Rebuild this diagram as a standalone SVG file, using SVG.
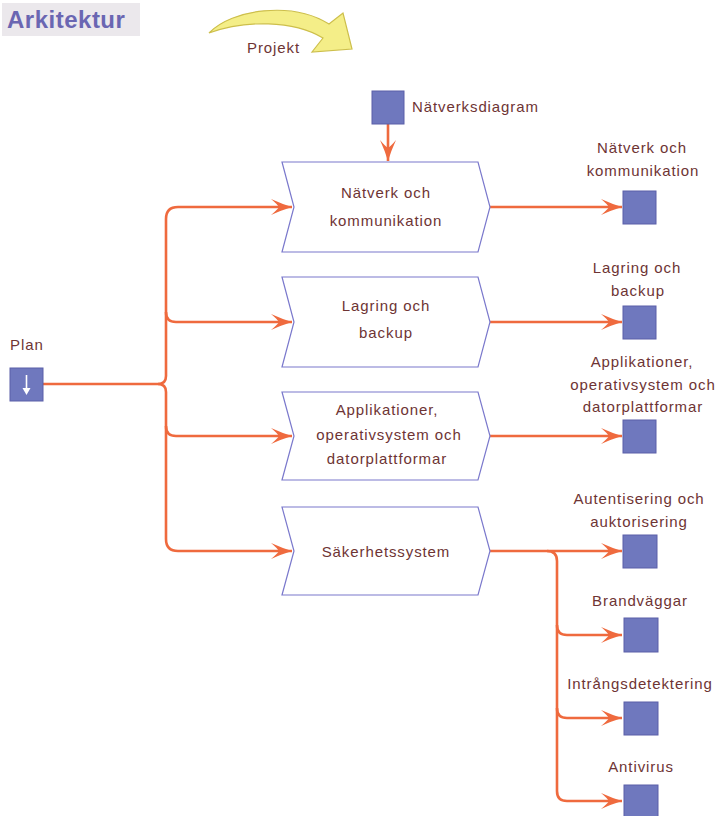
<svg xmlns="http://www.w3.org/2000/svg" width="722" height="816" viewBox="0 0 722 816">
  <style>
    .lbl { font-family: "Liberation Sans", Arial, sans-serif; font-size: 15px; fill: #6e3434; letter-spacing: 0.9px; }
    .mid { text-anchor: middle; }
    .proc { fill: #ffffff; stroke: #7a78cc; stroke-width: 1.2; }
    .sq { fill: #6f78be; stroke: #5b5fa8; stroke-width: 1; }
    .wire { fill: none; stroke: #ef6a3e; stroke-width: 2.6; }
  </style>
  <defs>
    <marker id="ah" markerUnits="userSpaceOnUse" markerWidth="24" markerHeight="18" viewBox="-22 -9 24 18" refX="0" refY="0" orient="auto">
      <path d="M0,0 Q-10,-3 -21,-8 Q-15,-3 -13,0 Q-15,3 -21,8 Q-10,3 0,0 Z" fill="#ef6a3e"/>
    </marker>
  </defs>

  <rect width="722" height="816" fill="#ffffff"/>

  <!-- heading -->
  <g id="title">
    <rect x="2" y="3" width="138" height="33" fill="#ebe8ec"/>
    <text x="7" y="28" font-family="'Liberation Sans', Arial, sans-serif" font-size="24" font-weight="bold" letter-spacing="0.5" fill="#6a66b2">Arkitektur</text>
  </g>

  <!-- curved project arrow -->
  <g id="projekt">
    <path d="M209,33 C232,9 292,1 329,24 L343,13 L352,49 L312,52 L323,38 C293,20 245,20 209,33 Z" fill="#f4ee88" stroke="#cdbf4c" stroke-width="1.2"/>
    <text class="lbl" x="247" y="53" font-size="14">Projekt</text>
  </g>

  <!-- connectors -->
  <g id="connectors">
    <path class="wire" d="M43,384 H158 Q166,384 166,376 V219 Q166,207 178,207 H292" marker-end="url(#ah)"/>
    <path class="wire" d="M158,384 Q166,384 166,392 V539 Q166,551 178,551 H292" marker-end="url(#ah)"/>
    <path class="wire" d="M166,312 Q166,322 176,322 H292" marker-end="url(#ah)"/>
    <path class="wire" d="M166,426 Q166,436 176,436 H292" marker-end="url(#ah)"/>
    <path class="wire" d="M388,124 V161" marker-end="url(#ah)"/>
    <path class="wire" d="M490,207 H622" marker-end="url(#ah)"/>
    <path class="wire" d="M490,322 H622" marker-end="url(#ah)"/>
    <path class="wire" d="M490,436 H622" marker-end="url(#ah)"/>
    <path class="wire" d="M490,551 H622" marker-end="url(#ah)"/>
    <path class="wire" d="M547,551 Q557,551 557,561 V625 Q557,635 567,635 H622" marker-end="url(#ah)"/>
    <path class="wire" d="M557,625 V708 Q557,718 567,718 H622" marker-end="url(#ah)"/>
    <path class="wire" d="M557,708 V791 Q557,801 567,801 H622" marker-end="url(#ah)"/>
  </g>

  <!-- start event -->
  <g id="plan">
    <text class="lbl" x="10" y="350">Plan</text>
    <rect class="sq" x="10" y="368" width="33" height="33"/>
    <path d="M26.5,375 V392" stroke="#ffffff" stroke-width="1.6"/>
    <path d="M22.5,388 L26.5,395 L30.5,388 Z" fill="#ffffff"/>
  </g>

  <g id="natverksdiagram">
    <rect class="sq" x="372" y="91" width="32" height="33"/>
    <text class="lbl" x="412" y="112">Nätverksdiagram</text>
  </g>

  <!-- process steps -->
  <g id="p-natverk">
    <path class="proc" d="M282,162 H478 L490,207 L478,252 H282 L294,207 Z"/>
    <text class="lbl mid" x="386" y="198">Nätverk och</text>
    <text class="lbl mid" x="386" y="226">kommunikation</text>
  </g>
  <g id="p-lagring">
    <path class="proc" d="M282,277 H478 L490,322 L478,367 H282 L294,322 Z"/>
    <text class="lbl mid" x="386" y="311">Lagring och</text>
    <text class="lbl mid" x="386" y="338">backup</text>
  </g>
  <g id="p-applikationer">
    <path class="proc" d="M282,392 H478 L490,436 L478,480 H282 L294,436 Z"/>
    <text class="lbl mid" x="387" y="415">Applikationer,</text>
    <text class="lbl mid" x="389" y="440">operativsystem och</text>
    <text class="lbl mid" x="387" y="464">datorplattformar</text>
  </g>
  <g id="p-sakerhet">
    <path class="proc" d="M282,507 H478 L490,551 L478,595 H282 L294,551 Z"/>
    <text class="lbl mid" x="386" y="557">Säkerhetssystem</text>
  </g>

  <!-- outputs -->
  <g id="o-natverk">
    <text class="lbl mid" x="642" y="153">Nätverk och</text>
    <text class="lbl mid" x="643" y="176">kommunikation</text>
    <rect class="sq" x="623" y="191" width="33" height="33"/>
  </g>
  <g id="o-lagring">
    <text class="lbl mid" x="637" y="273">Lagring och</text>
    <text class="lbl mid" x="638" y="296">backup</text>
    <rect class="sq" x="623" y="306" width="33" height="33"/>
  </g>
  <g id="o-applikationer">
    <text class="lbl mid" x="642" y="367">Applikationer,</text>
    <text class="lbl mid" x="643" y="390">operativsystem och</text>
    <text class="lbl mid" x="643" y="412">datorplattformar</text>
    <rect class="sq" x="623" y="420" width="33" height="33"/>
  </g>
  <g id="o-autentisering">
    <text class="lbl mid" x="639" y="504">Autentisering och</text>
    <text class="lbl mid" x="639" y="527">auktorisering</text>
    <rect class="sq" x="623" y="535" width="34" height="33"/>
  </g>
  <g id="o-brandvaggar">
    <text class="lbl mid" x="640" y="606">Brandväggar</text>
    <rect class="sq" x="624" y="618" width="34" height="34"/>
  </g>
  <g id="o-intrang">
    <text class="lbl mid" x="640" y="689">Intrångsdetektering</text>
    <rect class="sq" x="624" y="702" width="34" height="33"/>
  </g>
  <g id="o-antivirus">
    <text class="lbl mid" x="641" y="772">Antivirus</text>
    <rect class="sq" x="624" y="785" width="34" height="33"/>
  </g>
</svg>
